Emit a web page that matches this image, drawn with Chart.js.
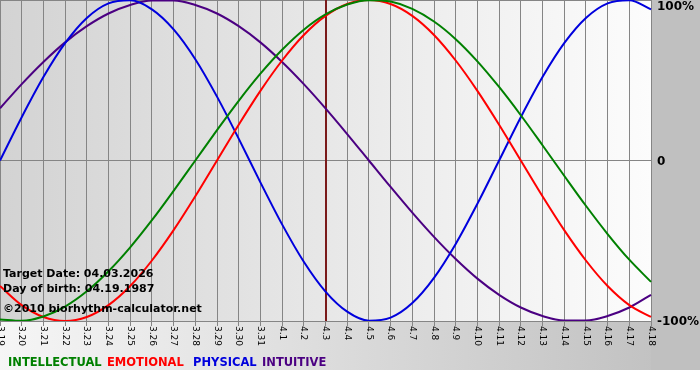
<!DOCTYPE html>
<html>
<head>
<meta charset="utf-8">
<script src="https://cdn.jsdelivr.net/npm/chart.js@4.4.1/dist/chart.umd.min.js"></script>
<style>
  html, body { margin: 0; padding: 0; background: #fff; }
  canvas { display: block; }
</style>
</head>
<body>
<canvas id="bioChart" width="700" height="380"></canvas>
<script>
// Biorhythm chart, 3.19 - 4.18, target day 4.3

// === data ===
const dayLabels = [
    "3.19", "3.20", "3.21", "3.22", "3.23", "3.24", "3.25", "3.26", "3.27", "3.28",
    "3.29", "3.30", "3.31", "4.1", "4.2", "4.3", "4.4", "4.5", "4.6", "4.7",
    "4.8", "4.9", "4.10", "4.11", "4.12", "4.13", "4.14", "4.15", "4.16", "4.17", "4.18"
];

// values in percent, one per day
const intellectual = [
    -99.0, -99.9, -97.2, -91.0, -81.5, -69.0, -54.1, -37.2, -18.9, 0,
    18.9, 37.2, 54.1, 69.0, 81.5, 91.0, 97.2, 99.9, 99.0, 94.5,
    86.6, 75.6, 61.8, 45.8, 28.2, 9.5, -9.5, -28.2, -45.8, -61.8, -75.6
];
const emotional = [
    -78.2, -90.1, -97.5, -100, -97.5, -90.1, -78.2, -62.3, -43.4, -22.3,
    0, 22.3, 43.4, 62.3, 78.2, 90.1, 97.5, 100, 97.5, 90.1,
    78.2, 62.3, 43.4, 22.3, 0, -22.3, -43.4, -62.3, -78.2, -90.1, -97.5
];
const physical = [
    0, 27.0, 52.0, 73.1, 88.8, 97.9, 99.8, 94.2, 81.7, 63.1,
    39.8, 13.6, -13.6, -39.8, -63.1, -81.7, -94.2, -99.8, -97.9, -88.8,
    -73.1, -52.0, -27.0, 0, 27.0, 52.0, 73.1, 88.8, 97.9, 99.8, 94.2
];
const intuitive = [
    32.5, 47.6, 61.4, 73.6, 83.7, 91.6, 96.9, 99.7, 99.7, 96.9,
    91.6, 83.7, 73.6, 61.4, 47.6, 32.5, 16.5, 0, -16.5, -32.5,
    -47.6, -61.4, -73.6, -83.7, -91.6, -96.9, -99.7, -99.7, -96.9, -91.6, -83.7
];

const seriesNames = ["INTELLECTUAL", "EMOTIONAL", "PHYSICAL", "INTUITIVE"];
const seriesColors = ["#008000", "#ff0000", "#0000dd", "#4b0082"];
const seriesValues = [intellectual, emotional, physical, intuitive];
const legendX = [8, 107, 193, 262];

const yTickValues = [100, 0, -100];
const yTickLabels = ["100%", "0", "-100%"];

const targetLabel = "4.3";
const infoLines = [
    "Target Date: 04.03.2026",
    "Day of birth: 04.19.1987",
    "©2010 biorhythm-calculator.net"
];

const FONT = "'DejaVu Sans', Verdana, sans-serif";

// === backgrounds, target line, labels ===
const decorPlugin = {
    id: "decor",
    beforeDraw(chart) {
        const { ctx, chartArea: a, width } = chart;
        ctx.save();
        ctx.fillStyle = "#ffffff";
        ctx.fillRect(0, 0, width, chart.height);

        // outer panel
        const g1 = ctx.createLinearGradient(0, 0, 680, 0);
        g1.addColorStop(0, "#f6f6f6");
        g1.addColorStop(1, "#c0c0c0");
        ctx.fillStyle = g1;
        ctx.fillRect(0, 0, width, 370);

        ctx.fillStyle = "#c0c0c0";
        ctx.fillRect(a.right, 0, width - a.right, 370);

        // plot area
        const g2 = ctx.createLinearGradient(a.left, 0, a.right, 0);
        g2.addColorStop(0, "#d3d3d3");
        g2.addColorStop(1, "#fcfcfc");
        ctx.fillStyle = g2;
        ctx.fillRect(a.left, a.top, a.right - a.left, a.bottom - a.top);
        ctx.restore();
    },
    beforeDatasetsDraw(chart) {
        const { ctx, chartArea: a } = chart;
        const x = chart.scales.x;
        const px = Math.round(x.getPixelForValue(dayLabels.indexOf(targetLabel)));
        ctx.save();
        ctx.strokeStyle = "#7a1a1a";
        ctx.lineWidth = 2;
        ctx.beginPath();
        ctx.moveTo(px, a.top);
        ctx.lineTo(px, a.bottom);
        ctx.stroke();
        ctx.restore();
    },
    afterDraw(chart) {
        const { ctx, chartArea: a } = chart;
        const x = chart.scales.x;
        const y = chart.scales.y;
        ctx.save();

        // x tick labels, rotated clockwise
        ctx.fillStyle = "#000";
        ctx.font = "9px " + FONT;
        ctx.textAlign = "left";
        ctx.textBaseline = "middle";
        dayLabels.forEach((lab, i) => {
            const px = x.getPixelForValue(i);
            ctx.save();
            ctx.translate(px, a.bottom + 5);
            ctx.rotate(Math.PI / 2);
            ctx.fillText(lab, 0, 0);
            ctx.restore();
        });

        // y labels on the right
        ctx.font = "bold 12px " + FONT;
        ctx.textBaseline = "middle";
        yTickValues.forEach((v, i) => {
            let py = y.getPixelForValue(v) + 1;
            py = Math.max(7, Math.min(a.bottom + 1, py));
            ctx.fillText(yTickLabels[i], a.right + 6, py);
        });

        // info text
        ctx.font = "bold 11px " + FONT;
        ctx.textBaseline = "alphabetic";
        ctx.fillText(infoLines[0], 3, 277);
        ctx.fillText(infoLines[1], 3, 292);
        ctx.fillText(infoLines[2], 3, 312);

        // legend
        ctx.font = "bold 11.5px " + FONT;
        seriesNames.forEach((name, i) => {
            ctx.fillStyle = seriesColors[i];
            ctx.fillText(name, legendX[i], 366);
        });
        ctx.restore();
    }
};

// === Chart.js config ===
const chartConfig = {
    type: "line",
    data: {
        labels: dayLabels,
        datasets: seriesNames.map((name, i) => ({
            label: name,
            data: seriesValues[i],
            borderColor: seriesColors[i],
            borderWidth: 2,
            pointRadius: 0,
            cubicInterpolationMode: "monotone",
            fill: false
        }))
    },
    options: {
        responsive: false,
        animation: false,
        layout: { padding: 0 },
        plugins: {
            legend: { display: false },
            tooltip: { enabled: false }
        },
        scales: {
            x: {
                offset: false,
                ticks: { display: false },
                grid: {
                    color: "#858585",
                    lineWidth: 1,
                    drawTicks: true,
                    tickLength: 5
                },
                border: { display: false },
                afterFit: s => { s.height = 59; }
            },
            y: {
                position: "right",
                min: -100,
                max: 100,
                ticks: { display: false, stepSize: 100 },
                grid: {
                    color: "#858585",
                    lineWidth: 1,
                    drawTicks: false
                },
                border: { display: false },
                afterFit: s => { s.width = 49; }
            }
        }
    },
    plugins: [decorPlugin]
};

const bioChart = new Chart(document.getElementById("bioChart"), chartConfig);
</script>
</body>
</html>
